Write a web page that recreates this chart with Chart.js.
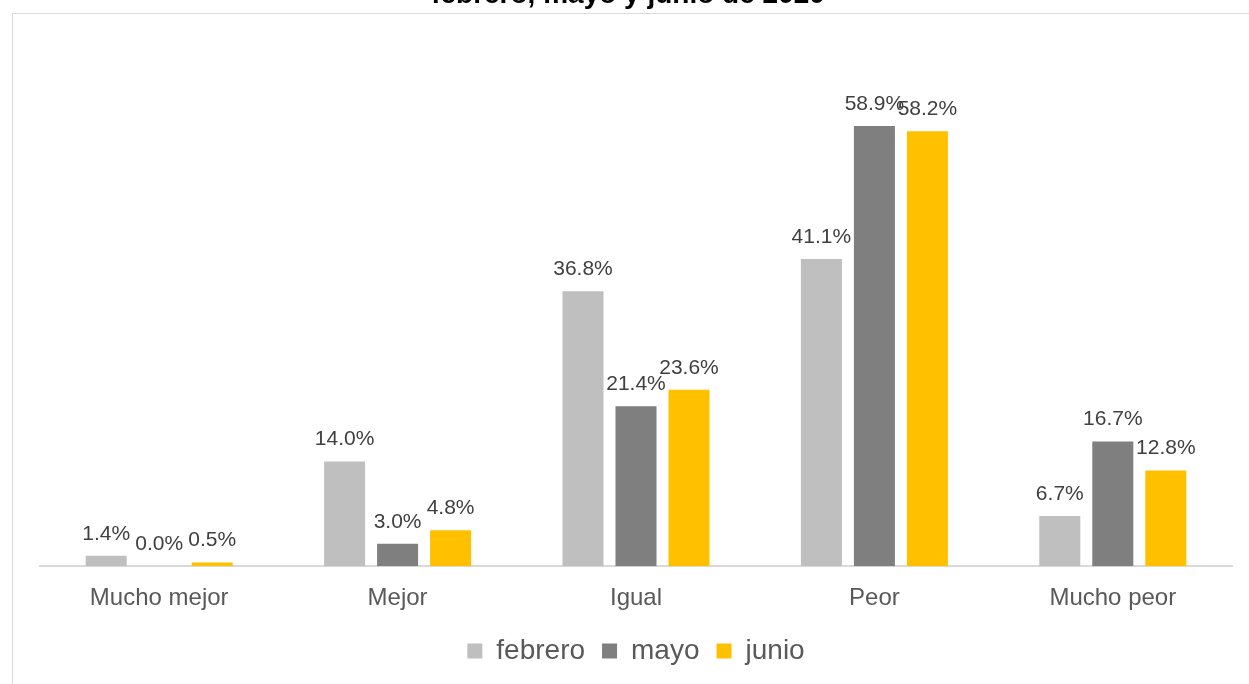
<!DOCTYPE html>
<html>
<head>
<meta charset="utf-8">
<script src="https://cdn.jsdelivr.net/npm/chart.js@4/dist/chart.umd.min.js"></script>
<style>
  html, body { margin: 0; padding: 0; background: #ffffff; overflow: hidden; }
  #frame { position: absolute; left: 12px; top: 13px; width: 1400px; height: 800px; border: 1px solid #d9d9d9; box-sizing: border-box; }
  #wrap { position: absolute; left: 0; top: 0; width: 1249px; height: 684px; }
</style>
</head>
<body>
<div id="frame"></div>
<div id="wrap"><canvas id="c" width="1249" height="684"></canvas></div>
<script>
const titleText = "febrero, mayo y junio de 2020";
const categories = ["Mucho mejor", "Mejor", "Igual", "Peor", "Mucho peor"];
const seriesNames = ["febrero", "mayo", "junio"];
const febrero = [1.4, 14.0, 36.8, 41.1, 6.7];
const mayo = [0.0, 3.0, 21.4, 58.9, 16.7];
const junio = [0.5, 4.8, 23.6, 58.2, 12.8];
const colors = ["#BFBFBF", "#7F7F7F", "#FFC000"];

const FONT = "'Liberation Sans', Arial, sans-serif";

const valueLabels = {
  id: 'valueLabels',
  afterDatasetsDraw(chart) {
    const ctx = chart.ctx;
    ctx.save();
    ctx.font = "21px " + FONT;
    ctx.fillStyle = "#404040";
    ctx.textAlign = "center";
    ctx.textBaseline = "middle";
    chart.data.datasets.forEach((ds, i) => {
      const meta = chart.getDatasetMeta(i);
      meta.data.forEach((bar, j) => {
        ctx.fillText(ds.data[j].toFixed(1) + "%", bar.x, bar.y - 22);
      });
    });
    ctx.restore();
  }
};

const cutTitle = {
  id: 'cutTitle',
  afterDraw(chart) {
    const ctx = chart.ctx;
    ctx.save();
    ctx.font = "bold 28px " + FONT;
    ctx.fillStyle = "#000000";
    ctx.textAlign = "center";
    ctx.textBaseline = "alphabetic";
    ctx.fillText(titleText, 628, 3);
    ctx.restore();
  }
};

const datasets = [febrero, mayo, junio].map((arr, i) => ({
  label: seriesNames[i],
  data: arr,
  backgroundColor: colors[i],
  borderWidth: 0,
  categoryPercentage: 0.667,
  barPercentage: 0.774
}));

new Chart(document.getElementById('c'), {
  type: 'bar',
  data: { labels: categories, datasets: datasets },
  options: {
    responsive: false,
    animation: false,
    devicePixelRatio: 1,
    layout: { padding: { left: 40, right: 17, top: 43, bottom: 9 } },
    plugins: {
      legend: {
        position: 'bottom',
        labels: {
          font: { family: FONT, size: 28 },
          color: "#595959",
          boxWidth: 15,
          boxHeight: 15,
          padding: 17
        }
      },
      title: { display: false },
      tooltip: { enabled: false }
    },
    scales: {
      x: {
        grid: { display: false, drawTicks: false },
        border: { display: true, color: "#D9D9D9", width: 2 },
        ticks: { font: { family: FONT, size: 24 }, color: "#595959", padding: 18 },
        afterFit(axis) { axis.height -= 11; }
      },
      y: {
        display: false,
        min: 0,
        max: 70
      }
    }
  },
  plugins: [valueLabels, cutTitle]
});
</script>
</body>
</html>
